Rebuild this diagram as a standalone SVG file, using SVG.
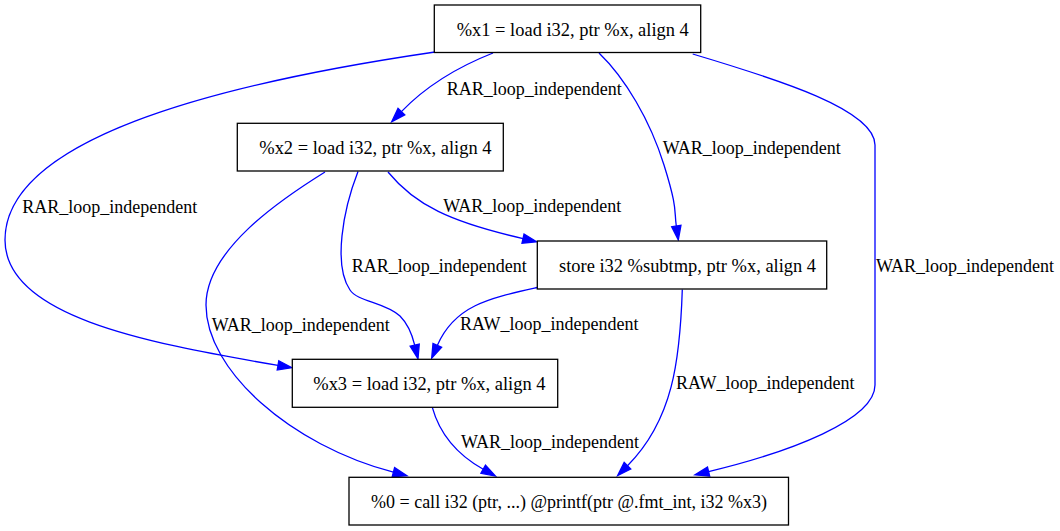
<svg xmlns="http://www.w3.org/2000/svg" width="1060" height="531" viewBox="0 0 1060 531">
<style>
.n rect{fill:#fff;stroke:#000;stroke-width:1.3}
text{font-family:"Liberation Serif","Times New Roman",serif;font-size:18px;fill:#000}
.n text.w{font-size:18.45px}
.e path{fill:none;stroke:#0000ff;stroke-width:1.3;marker-end:url(#a)}
</style>
<defs>
<marker id="a" markerUnits="userSpaceOnUse" markerWidth="16" markerHeight="12" viewBox="0 -6 16 12" refX="0" refY="0" orient="auto" overflow="visible">
<path d="M0,-4.7L14,0L0,4.7z" fill="#0000ff" stroke="#0000ff" stroke-width="1.3"/>
</marker>
</defs>
<rect width="1060" height="531" fill="#fff"/>
<g class="e" id="edges">
<path d="M493,53 C465,64 430,82 401.4,111.6"/>
<path d="M599,53 C625,78 650,120 664,165 S674,210 676.3,226"/>
<path d="M435,52 C210,85 5,140 5,240 C5,315 140,342 278,365.4"/>
<path d="M692.7,54 C780,80 875,110 875,145 L875,385 C875,420 790,452 708.6,471.6"/>
<path d="M388,172 C415,205 450,222 523,238.6"/>
<path d="M358,171.5 C343,210 333,265 350,290 C358,302 385,302 400,316 C407,323 412,334 414.7,345.1"/>
<path d="M325,172 C280,200 206,250 206,305 C206,370 290,445 393.4,472.2"/>
<path d="M537.3,287.5 C490,298 455,305 437.3,345.4"/>
<path d="M682.3,289.5 C680,360 673,420 627.5,465.7"/>
<path d="M432.3,407.3 C440,435 458,455 483.2,469.2"/>
</g>
<g id="edge-labels">
<text x="446.7" y="94.5">RAR_loop_independent</text>
<text x="662.7" y="154">WAR_loop_independent</text>
<text x="22.3" y="212.7">RAR_loop_independent</text>
<text x="876" y="271.7">WAR_loop_independent</text>
<text x="443.3" y="212.3">WAR_loop_independent</text>
<text x="351.7" y="271.7">RAR_loop_independent</text>
<text x="211.7" y="331">WAR_loop_independent</text>
<text x="460" y="330">RAW_loop_independent</text>
<text x="676" y="389.3">RAW_loop_independent</text>
<text x="461" y="448.3">WAR_loop_independent</text>
</g>
<g class="n" id="x1"><rect x="434.3" y="5" width="266.4" height="47.5"/><text class="w" x="456.7" y="36">%x1 = load i32, ptr %x, align 4</text></g>
<g class="n" id="x2"><rect x="237.3" y="123.3" width="266" height="47.7"/><text class="w" x="259.3" y="154.3">%x2 = load i32, ptr %x, align 4</text></g>
<g class="n" id="store"><rect x="537.3" y="241" width="289.4" height="48"/><text class="w" x="559" y="271.7">store i32 %subtmp, ptr %x, align 4</text></g>
<g class="n" id="x3"><rect x="292.3" y="359.3" width="265.4" height="48"/><text class="w" x="313.3" y="390">%x3 = load i32, ptr %x, align 4</text></g>
<g class="n" id="call"><rect x="349" y="477.3" width="439.5" height="47.7"/><text x="371" y="508.3">%0 = call i32 (ptr, ...) @printf(ptr @.fmt_int, i32 %x3)</text></g>
</svg>
